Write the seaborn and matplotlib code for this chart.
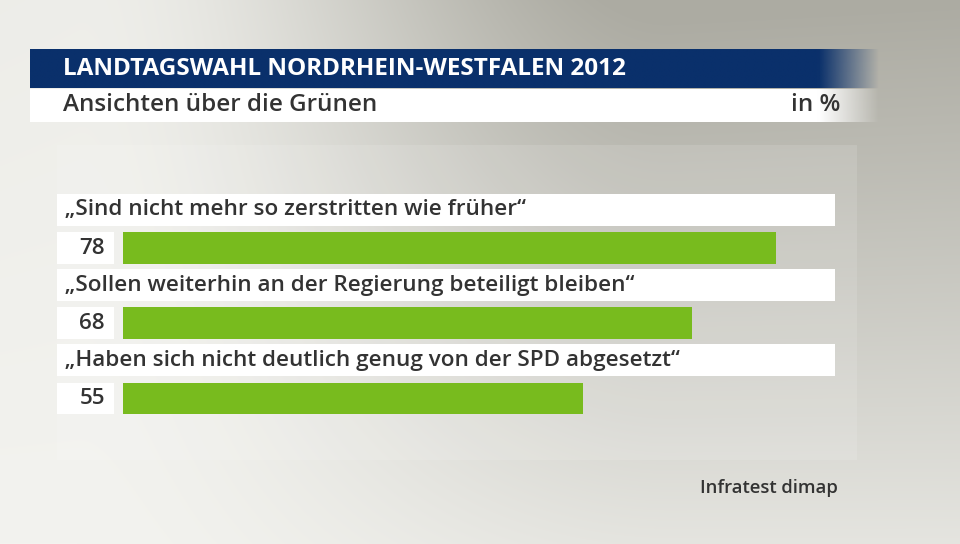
import numpy as np
import matplotlib.pyplot as plt
import seaborn as sns
from matplotlib.patches import Rectangle

# chart data
title = "LANDTAGSWAHL NORDRHEIN-WESTFALEN 2012"
subtitle = "Ansichten über die Grünen"
unit = "in %"
source = "Infratest dimap"
statements = [
    "„Sind nicht mehr so zerstritten wie früher“",
    "„Sollen weiterhin an der Regierung beteiligt bleiben“",
    "„Haben sich nicht deutlich genug von der SPD abgesetzt“",
]
values = [78, 68, 55]

GREEN = "#78bb1e"
BLUE = "#0a306b"
TEXT = "#333333"
FONT = "Open Sans"

sns.set_style("white")
plt.rcParams["font.family"] = [FONT, "DejaVu Sans"]

W, H = 960, 544
fig = plt.figure(figsize=(9.6, 5.44), dpi=100)

# background: gray gradient, drawn in pixel coordinates
bg = fig.add_axes([0, 0, 1, 1])
bg.set_xlim(0, W)
bg.set_ylim(H, 0)
bg.axis("off")
xx, yy = np.meshgrid(np.linspace(0, 1, W), np.linspace(0, 1, H))
t = np.clip((xx - 0.08) / 0.62, 0, 1)
t = t * t * (3 - 2 * t)
shade = t * (1 - 0.8 * yy) + 0.08 * (1 - xx) * (1 - yy)
light = np.array([243, 243, 239]) / 255
dark = np.array([172, 171, 162]) / 255
img = light + (dark - light) * np.clip(shade, 0, 1)[..., None]
bg.imshow(img, extent=(0, W, H, 0), aspect="auto", zorder=0)


def fade_band(x0, x1, fade_from, y0, y1, color):
    n = 400
    xs = np.linspace(x0, x1, n)
    alpha = np.clip((x1 - xs) / (x1 - fade_from), 0, 1)
    rgba = np.zeros((1, n, 4))
    rgba[..., :3] = plt.matplotlib.colors.to_rgb(color)
    rgba[..., 3] = alpha
    bg.imshow(rgba, extent=(x0, x1, y1, y0), aspect="auto", zorder=2,
              interpolation="bilinear")


fade_band(30, 880, 820, 49, 88, BLUE)
fade_band(30, 880, 820, 89, 122, "white")
bg.add_patch(Rectangle((57, 145), 800, 315, color="white", alpha=0.12, zorder=1, lw=0))

bg.text(63, 69, title, color="white", fontsize=17.5, fontweight="bold",
        va="center", ha="left", zorder=3)
bg.text(63, 105, subtitle, color=TEXT, fontsize=17.5, fontweight="semibold",
        va="center", ha="left", zorder=3)
bg.text(840, 105, unit, color=TEXT, fontsize=17.5, fontweight="semibold",
        va="center", ha="right", zorder=3)
bg.text(838, 488, source, color=TEXT, fontsize=13.3, fontweight="semibold",
        va="center", ha="right", zorder=3)

# bar axes, 0 at x=123px, 8.372 px per percent
ppu = 8.372
ax = fig.add_axes([57 / W, 1 - 414 / H, (835 - 57) / W, 220 / H])
ax.patch.set_alpha(0)
xmin, xmax = -(123 - 57) / ppu, (835 - 123) / ppu
bw = 32 / 75.25

sns.barplot(x=values, y=statements, orient="h", color=GREEN, saturation=1,
            width=bw, linewidth=0, ax=ax, zorder=3)

for i, (lab, v) in enumerate(zip(statements, values)):
    ax.add_patch(Rectangle((xmin, i - 0.505 - bw / 2), xmax - xmin, bw,
                           color="white", lw=0, zorder=2))
    ax.add_patch(Rectangle((xmin, i - bw / 2), (114 - 57) / ppu, bw,
                           color="white", lw=0, zorder=2))
    ax.text((65 - 123) / ppu, i - 0.505, lab, color=TEXT, fontsize=16.2,
            fontweight="semibold", va="center", ha="left", zorder=4)
    ax.text((105 - 123) / ppu, i, str(v), color=TEXT, fontsize=16.2,
            fontweight="semibold", va="center", ha="right", zorder=4)

ax.set_xlim(xmin, xmax)
ax.set_ylim((414 - 248) / 75.25, (194 - 248) / 75.25)
ax.axis("off")

fig.savefig("out.png", dpi=100)
